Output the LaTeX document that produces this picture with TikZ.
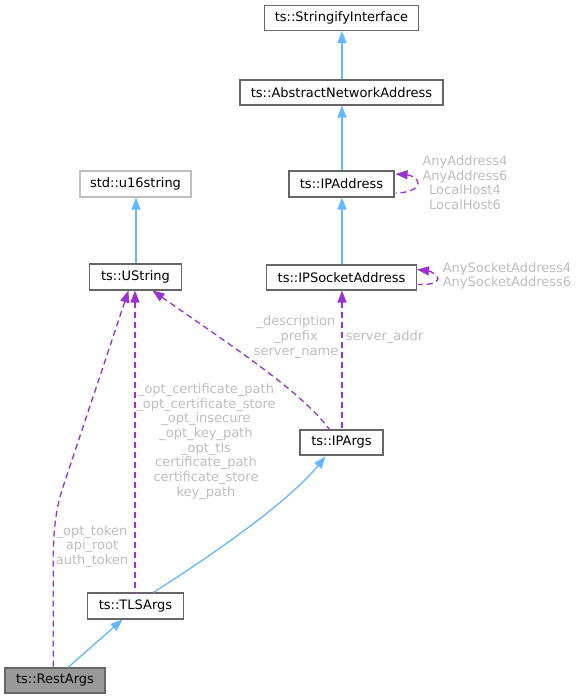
\documentclass[tikz,border=0pt]{standalone}
\usepackage{fontspec}
\setmainfont{DejaVu Sans}
\usetikzlibrary{arrows.meta,calc}
\definecolor{edgeblue}{HTML}{63B8FF}
\definecolor{edgepurple}{HTML}{9A32CD}
\definecolor{lblgray}{HTML}{BEBEBE}
\definecolor{boxgray}{HTML}{666666}
\definecolor{extgray}{HTML}{BFBFBF}
\definecolor{curfill}{HTML}{999999}
\begin{document}
\begin{tikzpicture}[x=1bp,y=-1bp,
  cls/.style={draw=boxgray, line width=1.1bp, fill=white, inner sep=0pt,
    minimum height=25bp, font=\fontsize{13bp}{15bp}\selectfont, text=black},
  ext/.style={cls, draw=extgray},
  cur/.style={cls, fill=curfill},
  inh/.style={{Triangle[length=12bp,width=9bp]}-, draw=edgeblue, line width=1.3bp},
  use/.style={{Triangle[length=12bp,width=9bp]}-, draw=edgepurple, line width=1.3bp, dash pattern=on 6bp off 4bp},
  lbl/.style={text=lblgray, align=center, inner sep=0pt, font=\fontsize{13bp}{14.7bp}\selectfont}
]
\useasboundingbox[fill=white] (0,0) rectangle (579,699);

\node[cls, minimum width=154bp] (si)  at (341.5,18)  {ts::StringifyInterface};
\node[cls, minimum width=203bp] (ana) at (341.5,92.5) {ts::AbstractNetworkAddress};
\node[ext, minimum width=111bp, minimum height=26bp] (u16) at (135.5,184) {std::u16string};
\node[cls, minimum width=105bp, minimum height=26bp] (ipa) at (341.5,184) {ts::IPAddress};
\node[cls, minimum width=150bp] (ipsa) at (341.5,277.5) {ts::IPSocketAddress};
\node[cls, minimum width=92bp, minimum height=26bp] (us) at (135.5,277) {ts::UString};
\node[cls, minimum width=83bp] (ipargs) at (341.5,442.5) {ts::IPArgs};
\node[cls, minimum width=96bp, minimum height=26bp] (tls) at (135.5,606) {ts::TLSArgs};
\node[cur, minimum width=100bp] (rest) at (55,680.5) {ts::RestArgs};

% inheritance
\draw[inh] ($(si.south)+(0.5,0)$) -- ($(ana.north)+(0.5,0)$);
\draw[inh] ($(ana.south)+(0.5,0)$) -- ($(ipa.north)+(0.5,0)$);
\draw[inh] ($(ipa.south)+(0.5,0)$) -- ($(ipsa.north)+(0.5,0)$);
\draw[inh] ($(u16.south)+(0.5,0)$) -- ($(us.north)+(0.5,0)$);
\draw[inh] ($(ipargs.south)+(-16,1)$) .. controls (290,500) and (220,550) .. ($(tls.north)+(18,0)$);
\draw[inh] ($(tls.south)+(-13,0)$) -- ($(rest.north)+(13,0)$);

% usage
\draw[use] ($(ipsa.south)+(0.5,0)$) -- ($(ipargs.north)+(0.5,0)$);
\draw[use] ($(us.south)+(17,0)$) .. controls (230,345) and (300,390) .. ($(ipargs.north)+(-12,0)$);
\draw[use] ($(us.south)+(-0.5,0)$) -- ($(tls.north)+(-0.5,0)$);
\draw[use] ($(us.south)+(-7,0)$) -- (62,490) .. controls (54,515) and (53.2,540) .. (53.2,570) -- (rest.north -| 53.2,0);

% self loops
\draw[use] ($(ipa.east)+(1,-10)$) .. controls (410,175) and (418,178) .. (418,183) .. controls (418,189) and (408,193) .. ($(ipa.east)+(1,9)$);
\draw[use] ($(ipsa.east)+(0,-8)$) .. controls (430,271) and (438,275) .. (438,279) .. controls (438,283) and (428,285) .. ($(ipsa.east)+(1,7)$);

% labels
\node[lbl] (l1) at (465,182.7) {AnyAddress4\\AnyAddress6\\LocalHost4\\LocalHost6};
\node[lbl] (l2) at (507,275.8) {AnySocketAddress4\\AnySocketAddress6};
\node[lbl] (l3) at (296,337) {\_description\\\_prefix\\server\_name};
\node[lbl] (l4) at (384.5,336.7) {server\_addr};
\node[lbl] (l5) at (206,441.5) {\_opt\_certificate\_path\\\_opt\_certificate\_store\\\_opt\_insecure\\\_opt\_key\_path\\\_opt\_tls\\certificate\_path\\certificate\_store\\key\_path};
\node[lbl] (l6) at (92,546.5) {\_opt\_token\\api\_root\\auth\_token};
\end{tikzpicture}
\end{document}
